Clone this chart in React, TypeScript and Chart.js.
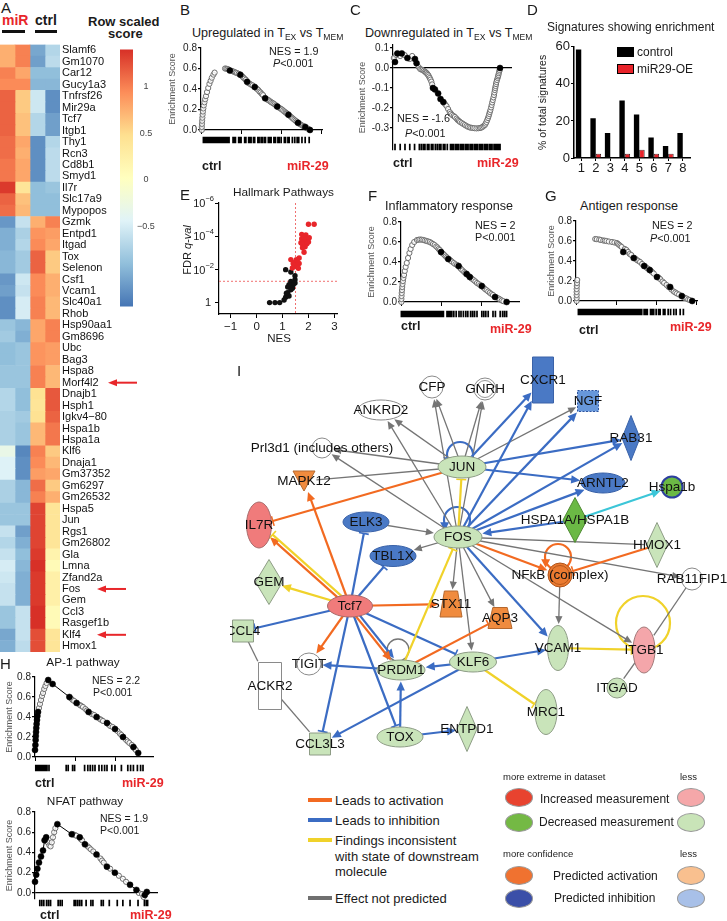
import React, { useEffect, useRef } from "react";
import { Chart, registerables } from "chart.js";

Chart.register(...registerables);

const FONT = '"Liberation Sans", Arial, Helvetica, sans-serif';
Chart.defaults.font.family = FONT;
Chart.defaults.color = "#1a1a1a";

/* ================= Panel A : heatmap ================= */
const GENES = ["Slamf6","Gm1070","Car12","Gucy1a3","Tnfrsf26","Mir29a","Tcf7","Itgb1","Thy1","Rcn3","Cd8b1","Smyd1","Il7r","Slc17a9","Mypopos","Gzmk","Entpd1","Itgad","Tox","Selenon","Csf1","Vcam1","Slc40a1","Rhob","Hsp90aa1","Gm8696","Ubc","Bag3","Hspa8","Morf4l2","Dnajb1","Hsph1","Igkv4\u221280","Hspa1b","Hspa1a","Klf6","Dnaja1","Gm37352","Gm6297","Gm26532","Hspa5","Jun","Rgs1","Gm26802","Gla","Lmna","Zfand2a","Fos","Gem","Ccl3","Rasgef1b","Klf4","Hmox1"];
const MIR_1 = [0.75,0.75,1.0,0.95,1.15,1.15,1.15,1.15,1.1,1.1,1.05,1.05,1.35,1.15,1.1,-1.15,-1.0,-1.0,-0.95,-0.95,-1.15,-1.1,-1.2,-1.2,-0.85,-0.8,-0.9,-0.9,-0.85,-0.85,-0.7,-0.7,-0.75,-0.75,-0.75,-0.3,-0.45,-0.45,-0.75,-0.75,-0.85,-0.85,-0.6,-0.7,-0.6,-0.5,-0.55,-0.6,-0.6,-0.85,-0.85,-1.05,-1.0];
const MIR_2 = [1.0,1.0,0.8,0.95,0.6,0.6,0.65,0.65,0.8,0.75,0.8,0.8,0.4,0.65,0.7,-0.6,-0.75,-0.7,-0.8,-0.8,-0.55,-0.6,-0.5,-0.5,-0.95,-1.0,-0.85,-0.85,-0.85,-0.85,-0.9,-0.9,-0.8,-0.85,-0.85,-1.25,-1.2,-1.2,-0.95,-0.95,-0.85,-0.85,-1.1,-1.0,-0.9,-0.95,-1.0,-1.0,-1.0,-0.6,-0.6,-0.6,-0.65];
const CTRL_1 = [-1.05,-1.1,-0.9,-0.95,-0.55,-0.55,-0.7,-0.7,-1.2,-1.2,-1.2,-1.2,-0.9,-0.9,-0.9,0.75,0.9,0.95,1.15,1.15,0.95,0.95,1.0,1.0,0.8,0.8,0.9,0.9,1.0,1.0,0.45,0.4,0.45,0.7,0.7,1.0,0.95,0.85,1.1,1.0,1.3,1.3,1.3,1.3,1.35,1.4,1.35,1.35,1.35,1.4,1.4,1.25,1.25];
const CTRL_2 = [-0.7,-0.65,-0.9,-0.95,-1.2,-1.2,-1.1,-1.1,-0.7,-0.65,-0.65,-0.65,-0.85,-0.9,-0.9,1.0,0.85,0.8,0.6,0.6,0.75,0.75,0.7,0.7,1.0,1.0,0.85,0.85,0.7,0.7,1.2,1.2,1.15,1.05,1.05,0.6,0.7,0.8,0.6,0.75,0.4,0.4,0.4,0.4,0.2,0.1,0.25,0.25,0.25,0.1,0.1,0.4,0.4];
const SAMPLE_COLUMNS = ["miR-1", "miR-2", "ctrl-1", "ctrl-2"];
const ARROW_GENES = ["Morf4l2", "Fos", "Klf4"];
const SCALE_MIN = -1.36;
const SCALE_MAX = 1.4;
const SCALE_TICKS = [-0.5, 0, 0.5, 1];
const PALETTE = ["#4575B4", "#91BFDB", "#E0F3F8", "#FFFFBF", "#FEE090", "#FC8D59", "#D73027"];
const ARROW_TIP: any = { Morf4l2: 108, Fos: 97, Klf4: 97 };

/* ================= GSEA panels (x = rank in thousands) ================= */
type Pt = [number, number];
const B_GRAY: Pt[] = [[0.1,0.0],[0.1,0.03],[0.12,0.06],[0.14,0.09],[0.17,0.12],[0.2,0.15],[0.24,0.18],[0.29,0.21],[0.35,0.24],[0.43,0.27],[0.52,0.3],[0.62,0.33],[0.75,0.37],[0.9,0.41],[1.05,0.45],[1.2,0.48],[1.35,0.51],[1.55,0.54],[1.7,0.56],[3.0,0.6],[3.15,0.598],[3.3,0.595],[3.45,0.59],[3.9,0.575],[4.05,0.57],[4.2,0.565],[4.35,0.56],[4.5,0.555],[4.7,0.548],[5.05,0.53],[5.2,0.52],[5.3,0.51],[5.45,0.5],[5.6,0.49],[5.9,0.46],[6.0,0.455],[6.15,0.448],[6.3,0.44],[6.45,0.435],[6.85,0.41],[7.0,0.4],[7.15,0.39],[7.3,0.375],[7.45,0.365],[7.6,0.35],[7.75,0.34],[8.15,0.305],[8.3,0.295],[8.45,0.29],[8.6,0.28],[8.75,0.272],[8.9,0.265],[9.05,0.258],[9.2,0.25],[9.35,0.24],[9.65,0.222],[9.8,0.215],[9.95,0.207],[10.1,0.2],[10.25,0.19],[10.4,0.18],[10.55,0.172],[10.65,0.165],[10.75,0.16],[11.05,0.14],[11.2,0.13],[11.35,0.12],[11.5,0.11],[11.65,0.1],[11.8,0.09],[11.95,0.082],[12.25,0.063],[12.4,0.055],[12.55,0.048],[12.7,0.04],[12.85,0.035],[13.15,0.02],[13.3,0.015],[13.45,0.008]];
const B_LEAD: Pt[] = [[3.6,0.58],[4.9,0.54],[5.75,0.47],[6.7,0.42],[8.0,0.31],[9.5,0.23],[10.9,0.15],[12.1,0.07],[13.0,0.03],[13.6,0.0]];
const B_HITS = [0.3,0.45,0.6,0.7,0.85,1.0,1.1,1.25,1.4,1.5,1.65,1.8,1.9,2.05,2.2,2.3,2.45,2.6,2.75,2.85,3.0,3.15,3.3,3.5,4.0,4.15,4.3,4.7,4.85,5.0,5.45,5.6,5.95,6.1,6.25,6.55,6.7,7.1,7.25,7.5,7.65,7.9,8.05,8.4,8.6,8.75,9.1,9.3,9.6,9.75,10.0,10.4,10.55,10.85,11.0,11.4,11.7,12.0,12.2,12.6,13.0,13.5];

const C_GRAY: Pt[] = [[0.1,0.05],[0.4,0.065],[0.9,0.06],[1.45,0.065],[2.1,0.045],[2.4,0.06],[3.2,0.005],[3.4,-0.005],[3.55,-0.008],[3.7,-0.01],[3.85,-0.014],[4.0,-0.018],[4.1,-0.022],[4.2,-0.025],[4.3,-0.03],[4.4,-0.035],[4.5,-0.042],[4.6,-0.05],[4.7,-0.058],[4.8,-0.068],[4.9,-0.082],[6.5,-0.18],[6.7,-0.19],[6.9,-0.205],[7.1,-0.22],[7.25,-0.228],[7.4,-0.235],[7.6,-0.24],[7.75,-0.245],[7.95,-0.253],[8.1,-0.26],[8.25,-0.265],[8.4,-0.27],[8.6,-0.275],[8.8,-0.28],[9.0,-0.285],[9.2,-0.29],[9.4,-0.294],[9.6,-0.297],[9.8,-0.299],[10.0,-0.3],[10.2,-0.301],[10.45,-0.302],[10.7,-0.301],[10.9,-0.3],[11.05,-0.298],[11.2,-0.295],[11.35,-0.29],[11.5,-0.285],[11.6,-0.278],[11.7,-0.27],[11.8,-0.26],[11.9,-0.25],[11.98,-0.24],[12.05,-0.23],[12.12,-0.22],[12.2,-0.21],[12.28,-0.197],[12.35,-0.185],[12.42,-0.172],[12.5,-0.16],[12.58,-0.147],[12.65,-0.135],[12.7,-0.122],[12.75,-0.11],[12.8,-0.1],[12.85,-0.09],[12.9,-0.08],[12.95,-0.07],[13.02,-0.06],[13.1,-0.05],[13.15,-0.042],[13.2,-0.035],[13.25,-0.026],[13.3,-0.018],[13.35,-0.01]];
const C_LEAD: Pt[] = [[0.25,0.03],[0.55,0.073],[1.1,0.073],[1.8,0.05],[2.75,0.045],[2.95,0.024],[5.0,-0.1],[5.25,-0.107],[5.65,-0.127],[5.95,-0.155],[6.3,-0.17],[13.4,0.0]];
const C_HITS = [0.25,0.9,1.5,2.1,2.7,3.3,3.55,3.8,4.0,4.3,4.5,4.8,5.0,5.3,5.55,5.8,6.0,6.3,6.5,6.8,7.2,7.4,7.6,7.85,8.0,8.2,8.45,8.6,8.8,9.05,9.2,9.4,9.65,9.8,10.0,10.25,10.4,10.6,10.85,11.0,11.2,11.45,11.6,11.8,12.05,12.2,12.4,12.65,12.8,13.0,13.2,13.4];

const F_GRAY: Pt[] = [[0.05,0.0],[0.05,0.03],[0.07,0.06],[0.09,0.09],[0.12,0.12],[0.15,0.15],[0.19,0.18],[0.24,0.21],[0.3,0.24],[0.38,0.27],[0.47,0.31],[0.58,0.35],[0.72,0.39],[0.88,0.44],[1.05,0.49],[1.2,0.53],[1.4,0.57],[1.65,0.6],[2.0,0.62],[2.2,0.623],[2.4,0.625],[2.6,0.623],[2.8,0.62],[3.0,0.615],[3.2,0.61],[3.4,0.605],[3.6,0.6],[3.8,0.59],[4.0,0.58],[4.2,0.57],[4.4,0.555],[4.55,0.545],[4.7,0.53],[4.85,0.52],[5.15,0.49],[5.3,0.48],[5.45,0.468],[5.6,0.455],[5.75,0.445],[6.05,0.425],[6.2,0.415],[6.35,0.405],[6.6,0.39],[6.8,0.378],[7.0,0.37],[7.35,0.345],[7.5,0.33],[7.7,0.315],[7.9,0.3],[8.05,0.29],[8.4,0.265],[8.75,0.24],[8.9,0.23],[9.1,0.218],[9.3,0.205],[9.5,0.19],[9.7,0.18],[9.9,0.168],[10.3,0.145],[10.5,0.13],[10.7,0.118],[10.9,0.105],[11.1,0.092],[11.3,0.08],[11.5,0.07],[11.95,0.045],[12.2,0.035],[12.4,0.025],[12.6,0.015],[12.8,0.008]];
const F_LEAD: Pt[] = [[5.0,0.5],[5.9,0.43],[7.2,0.36],[8.2,0.28],[8.6,0.25],[10.1,0.16],[11.75,0.05],[13.2,0.0]];
const F_HITS = [0.05,0.25,0.45,0.6,0.8,1.0,1.2,1.35,1.55,1.75,1.9,2.1,2.3,2.45,2.65,2.85,3.0,3.2,3.4,3.55,3.75,3.95,4.1,4.3,4.5,4.7,4.9,5.1,5.3,5.75,5.95,6.15,6.35,6.6,6.9,7.25,7.5,7.8,8.1,8.35,8.7,8.95,9.2,9.5,10.1,10.35,10.6,10.9,11.5,11.8,12.4,12.7,12.95,13.2];

const G_GRAY: Pt[] = [[0.08,0.0],[0.08,0.03],[0.08,0.06],[0.08,0.09],[0.08,0.12],[0.1,0.15],[0.12,0.18],[0.15,0.21],[2.4,0.62],[2.6,0.618],[2.9,0.615],[3.1,0.61],[3.4,0.605],[3.6,0.603],[3.8,0.6],[4.1,0.595],[4.5,0.59],[4.8,0.585],[5.1,0.58],[5.25,0.57],[5.4,0.56],[5.55,0.55],[5.7,0.54],[6.1,0.52],[6.3,0.51],[6.5,0.49],[6.7,0.47],[6.9,0.46],[7.4,0.425],[7.6,0.41],[7.8,0.4],[8.0,0.39],[8.25,0.37],[8.65,0.345],[8.85,0.33],[9.05,0.32],[9.35,0.3],[9.5,0.29],[9.7,0.275],[10.3,0.235],[10.5,0.22],[10.8,0.195],[11.0,0.18],[11.3,0.16],[11.55,0.14],[11.9,0.115],[12.2,0.095],[12.4,0.085],[12.6,0.075],[12.85,0.065],[13.4,0.04],[13.6,0.03],[13.8,0.025],[14.0,0.015],[14.2,0.01]];
const G_LEAD: Pt[] = [[5.9,0.49],[7.2,0.43],[8.5,0.35],[9.2,0.31],[10.1,0.24],[11.75,0.14],[13.2,0.05],[14.5,0.0]];
const G_HITS = [0.3,0.45,0.6,0.8,0.95,1.1,1.3,1.45,1.6,1.8,1.95,2.1,2.3,2.45,2.6,2.8,2.95,3.1,3.3,3.45,3.6,3.8,3.95,4.1,4.3,4.45,4.6,4.8,4.95,5.1,5.3,5.45,5.6,5.8,5.95,6.1,6.3,6.45,6.6,6.8,6.95,7.1,7.3,7.45,7.6,7.8,8.0,8.2,8.5,8.7,8.9,9.3,9.5,9.7,10.0,10.3,10.5,10.9,11.1,11.5,11.8,12.2,12.5,13.0,13.4];

const AP1_GRAY: Pt[] = [[0.5,0.49],[0.62,0.53],[0.75,0.57],[0.88,0.61],[1.0,0.64],[1.15,0.68],[1.3,0.71],[1.45,0.74],[4.5,0.585],[4.7,0.57],[4.9,0.56],[5.6,0.52],[5.8,0.51],[6.0,0.5],[6.3,0.48],[6.5,0.465],[7.1,0.43],[7.4,0.42],[8.1,0.38],[8.3,0.37],[8.5,0.36],[9.2,0.325],[9.4,0.31],[9.7,0.3],[10.3,0.26],[10.6,0.235],[10.8,0.22],[11.4,0.17],[11.6,0.155],[11.8,0.14],[12.1,0.12],[12.45,0.085],[12.6,0.07]];
const AP1_LEAD: Pt[] = [[0.0,0.07],[0.05,0.12],[0.08,0.17],[0.1,0.21],[0.13,0.25],[0.16,0.29],[0.2,0.33],[0.25,0.37],[0.3,0.41],[0.38,0.45],[1.65,0.77],[2.2,0.73],[4.3,0.6],[5.2,0.54],[6.7,0.45],[7.7,0.4],[9.0,0.34],[10.0,0.28],[11.0,0.2],[12.3,0.1],[12.9,0.04]];
const AP1_HITS = [0.1,0.3,0.5,0.7,0.9,1.1,1.3,1.5,1.75,3.9,4.15,4.7,4.95,6.2,6.6,6.9,7.2,7.5,8.0,8.35,8.7,9.0,9.6,10.0,10.8,11.6,11.95,12.3,12.8,13.2,13.5];

const NFAT_GRAY: Pt[] = [[1.6,0.5],[1.8,0.47],[1.95,0.46],[2.1,0.5],[2.25,0.55],[2.4,0.6],[2.55,0.64],[4.8,0.578],[4.9,0.575],[5.05,0.57],[5.2,0.565],[5.75,0.53],[5.9,0.52],[6.6,0.46],[6.8,0.445],[7.0,0.43],[7.3,0.41],[8.2,0.34],[8.4,0.32],[8.6,0.3],[9.4,0.24],[10.5,0.17],[11.0,0.14],[11.4,0.11],[13.0,0.0],[13.4,-0.01],[13.6,-0.04]];
const NFAT_LEAD: Pt[] = [[0.0,0.11],[0.15,0.18],[0.3,0.24],[0.5,0.3],[0.75,0.36],[1.0,0.42],[1.2,0.52],[1.4,0.55],[2.8,0.68],[4.6,0.58],[5.6,0.55],[6.25,0.48],[7.7,0.38],[9.0,0.26],[10.0,0.2],[11.9,0.08],[12.7,0.03],[13.75,-0.02],[14.0,0.01]];
const NFAT_HITS = [0.6,0.85,1.1,1.45,1.7,1.95,2.9,3.15,3.4,4.9,5.1,5.35,5.6,5.85,6.4,7.0,7.25,8.3,8.55,9.3,10.3,11.0,11.9,12.9,13.7,13.95,14.1];

const GSEA_X_TICKS = [0, 5, 10, 15];

/* ================= Panel D ================= */
const SIG_IDS = ["1", "2", "3", "4", "5", "6", "7", "8"];
const CONTROL_PCT = [58.5, 21.5, 13.5, 31, 23.5, 11, 6.5, 13.5];
const MIR29OE_PCT = [0, 2.3, 0, 2.3, 4.5, 2.3, 2.3, 0];

/* ================= Panel E ================= */
const E_SIG_NES = [2.0,2.22,1.74,1.9,1.74,1.83,1.92,2.03,1.83,1.71,1.77,1.94,2.0,1.87,1.77,1.83,1.64,1.53,1.32,1.57,1.48,1.41,1.64,1.53,1.45,1.57,1.38,1.61];
const E_SIG_FDR = [1.9e-5,1.9e-5,7.6e-5,8.3e-5,1.4e-4,1.2e-4,1.5e-4,1.2e-4,2.1e-4,2.4e-4,3e-4,2.8e-4,2.2e-4,4.2e-4,4.8e-4,9e-4,2e-3,2.5e-3,2.5e-3,3.2e-3,3.6e-3,4.3e-3,4.3e-3,5.2e-3,5.7e-3,6.9e-3,7.9e-3,8.3e-3];
const E_NS_NES = [1.12,1.32,1.48,1.48,1.32,1.48,1.41,1.25,1.2,1.38,1.32,1.2,1.25,1.12,1.06,0.89,0.71,0.5,1.15];
const E_NS_FDR = [1e-2,1.4e-2,2.3e-2,4e-2,5.1e-2,6.4e-2,8e-2,8e-2,0.11,0.13,0.16,0.24,0.38,0.45,0.66,0.95,0.95,0.95,0.26];
const NES_CUT = 1.5;
const FDR_CUT = 0.05;
const E_X_MIN = -1.45, E_X_MAX = 3.1, E_Y_MIN = 1e-6, E_Y_MAX = 4.6;
const E_X_TICKS = [-1, 0, 1, 2, 3];
const E_Y_TICKS = [1e-6, 1e-4, 1e-2, 1];

/* ================= Panel I : network ================= */
const NODE_NAMES = ["CFP","GNRH","CXCR1","NGF","ANKRD2","RAB31","Prl3d1 (includes others)","JUN","MAPK12","ARNTL2","Hspa1b","IL7R","ELK3","HSPA1A/HSPA1B","FOS","TBL1X","HMOX1","NFkB (complex)","RAB11FIP1","GEM","Tcf7","STX11","AQP3","CCL4","VCAM1","ITGB1","TIGIT","PRDM1","KLF6","ACKR2","ITGAD","MRC1","TOX","ENTPD1","CCL3L3"];
const NODE_X = [202,255,313,358,151,401,92,232,74,373,442,29,136,345,228,163,427,330,462,39,120,221,270,13,328,414,79,171,243,40,387,316,170,237,90];
const NODE_Y = [37,39,30,51,60,88,98,117,131,133,137,175,172,170,187,206,195,225,229,232,256,254,268,281,298,300,314,320,312,336,338,362,387,379,394];
const EDGE_FROM = ["JUN","FOS","JUN","FOS","JUN","FOS","JUN","FOS","JUN","JUN","ELK3","FOS","FOS","FOS","FOS","FOS","FOS","FOS","NFkB (complex)","RAB11FIP1","ITGB1","CCL4","ACKR2","JUN","FOS","FOS","JUN","FOS","JUN","FOS","HSPA1A/HSPA1B","HSPA1A/HSPA1B","FOS","KLF6","Tcf7","Tcf7","Tcf7","Tcf7","Tcf7","Tcf7","Tcf7","PRDM1","KLF6","TOX","TOX","KLF6","JUN","Tcf7","Tcf7","Tcf7","Tcf7","Tcf7","FOS","HMOX1","PRDM1","Tcf7","Tcf7","PRDM1","FOS","KLF6","VCAM1"];
const EDGE_TO = ["CFP","CFP","GNRH","GNRH","ANKRD2","ANKRD2","Prl3d1 (includes others)","Prl3d1 (includes others)","MAPK12","NGF","FOS","TBL1X","STX11","AQP3","KLF6","HMOX1","RAB11FIP1","ITGB1","VCAM1","ITGB1","ITGAD","ACKR2","CCL3L3","CXCR1","CXCR1","NGF","RAB31","RAB31","ARNTL2","ARNTL2","FOS","Hspa1b","VCAM1","VCAM1","ELK3","TBL1X","CCL4","KLF6","CCL3L3","TOX","PRDM1","TIGIT","PRDM1","PRDM1","ENTPD1","CCL3L3","IL7R","MAPK12","IL7R","STX11","TIGIT","PRDM1","NFkB (complex)","NFkB (complex)","AQP3","GEM","IL7R","FOS","JUN","MRC1","ITGB1"];
const EDGE_TYPE = ["np","np","np","np","np","np","np","np","np","np","np","np","np","np","np","np","np","np","np","np","np","np","np","inh","inh","inh","inh","inh","inh","inh","inh","cyan","inh","inh","inh","inh","inh","inh","inh","inh","inh","inh","inh","inh","inh","inh","act","act","act","act","act","act","act","act","act","inc","inc","inc","inc","inc","inc"];
const EDGE_HEAD = ["arrow","arrow","arrow","arrow","arrow","arrow","arrow","arrow","none","arrow","arrow","arrow","arrow","arrow","arrow","none","arrow","arrow","arrow","none","none","none","none","arrow","arrow","arrow","arrow","arrow","arrow","arrow","arrow","arrow","arrow","arrow","bar","bar","bar","bar","bar","bar","arrow","arrow","arrow","arrow","arrow","arrow","bar","arrow","arrow","arrow","arrow","arrow","arrow","bar","bar","arrow","bar","bar","bar","bar","bar"];
const LOOP_NODES = ["JUN", "FOS", "NFkB (complex)", "PRDM1", "ITGB1"];
const LOOP_TYPES = ["inh", "inh", "act", "np", "inc"];
const LOOP_HEADS = ["arrow", "arrow", "arrow", "arrow", "none"];

/* ---------- styles (kept apart from the data) ---------- */
const NODE_LOOK: any = {
  CFP: ["circle", 22, 22, "white"], GNRH: ["dcircle", 22, 22, "white"], CXCR1: ["rect", 21, 46, "blue"],
  NGF: ["rect", 21, 21, "lblue"], ANKRD2: ["ellipse", 46, 20, "white"], RAB31: ["diamond", 18, 45, "blue"],
  "Prl3d1 (includes others)": ["circle", 20, 20, "white"], JUN: ["ellipse", 48, 22, "green"],
  MAPK12: ["tri", 22, 20, "orange"], ARNTL2: ["ellipse", 44, 20, "blue"], Hspa1b: ["circle", 21, 21, "dgreenB"],
  IL7R: ["ellipse", 25, 46, "red"], ELK3: ["ellipse", 46, 20, "blue"], "HSPA1A/HSPA1B": ["diamond", 24, 45, "dgreen"],
  FOS: ["ellipse", 48, 22, "green"], TBL1X: ["ellipse", 46, 21, "blue"], HMOX1: ["diamond", 21, 45, "green"],
  "NFkB (complex)": ["dcircle", 24, 24, "dorange"], RAB11FIP1: ["circle", 21, 22, "white"], GEM: ["diamond", 27, 45, "green"],
  Tcf7: ["ellipse", 45, 22, "red"], STX11: ["trap", 22, 26, "orange"], AQP3: ["trap", 24, 21, "orange"],
  CCL4: ["rect", 21, 22, "green"], VCAM1: ["ellipse", 21, 45, "green"], ITGB1: ["ellipse", 22, 46, "pink"],
  TIGIT: ["circle", 24, 22, "white"], PRDM1: ["ellipse", 48, 20, "green"], KLF6: ["ellipse", 47, 20, "green"],
  ACKR2: ["rect", 23, 47, "white"], ITGAD: ["circle", 20, 20, "green"], MRC1: ["ellipse", 22, 45, "green"],
  TOX: ["ellipse", 46, 20, "green"], ENTPD1: ["diamond", 20, 45, "green"], CCL3L3: ["rect", 21, 22, "green"],
};
const FILLS: any = {
  white: ["#ffffff", "#8a8a8a"], green: ["#c9e4ba", "#8d9c85"], blue: ["#4a79c5", "#3a62a8"], lblue: ["#6797db", "#2f55a0"],
  red: ["#f07b7b", "#a86a6a"], pink: ["#f4a6aa", "#a27a7a"], orange: ["#f08b3e", "#b5682e"], dorange: ["#ea7a30", "#b0541a"],
  dgreen: ["#6bb945", "#4f8a33"], dgreenB: ["#6bb945", "#2d3f9e"],
};
const LOOP_GEOM: any = { JUN: [-2, -12, 13], FOS: [-1, -17, 13], "NFkB (complex)": [-2, -18, 13], PRDM1: [-3, -20, 11], ITGB1: [-1, -27, 27] };
const EDGE_COLORS: any = { act: "#f26a21", inh: "#3b6cc3", inc: "#f0d22a", np: "#757575", cyan: "#3cc6d8" };
const EDGE_WIDTH: any = { act: 2.2, inh: 2.2, inc: 2.2, np: 1.3, cyan: 2.2 };

/* ================= helpers ================= */
function hexToRgb(h: string) {
  const n = parseInt(h.slice(1), 16);
  return [(n >> 16) & 255, (n >> 8) & 255, n & 255];
}
function heatColor(v: number) {
  const t = Math.min(1, Math.max(0, (v - SCALE_MIN) / (SCALE_MAX - SCALE_MIN))) * (PALETTE.length - 1);
  const i = Math.min(PALETTE.length - 2, Math.floor(t));
  const f = t - i;
  const a = hexToRgb(PALETTE[i]);
  const b = hexToRgb(PALETTE[i + 1]);
  const c = a.map((x, k) => Math.round(x + (b[k] - x) * f));
  return `rgb(${c[0]},${c[1]},${c[2]})`;
}
const minus = (v: number) => (v < 0 ? "\u2212" + Math.abs(v) : String(v));

function ChartCanvas({ left, top, width, height, build }: any) {
  const ref = useRef<HTMLCanvasElement>(null);
  useEffect(() => {
    if (!ref.current) return;
    const ch = build(ref.current);
    return () => ch.destroy();
  }, []);
  return <canvas ref={ref} width={width} height={height} style={{ position: "absolute", left, top, width, height }} />;
}

function Txt({ x, y, s = 11, bold = false, italic = false, color = "#1a1a1a", center = false, children }: any) {
  const style: any = {
    position: "absolute", top: y - s / 2, fontSize: s, lineHeight: `${s}px`, whiteSpace: "nowrap",
    fontWeight: bold ? 700 : 400, fontStyle: italic ? "italic" : "normal", color,
  };
  if (center) { style.left = x - 150; style.width = 300; style.textAlign = "center"; } else style.left = x;
  return <div style={style}>{children}</div>;
}
function VTxt({ x, y, s = 11, children }: any) {
  return (
    <div style={{ position: "absolute", left: x, top: y, fontSize: s, lineHeight: `${s}px`, whiteSpace: "nowrap", color: "#1a1a1a", transform: "translate(-50%, -50%) rotate(-90deg)" }}>
      {children}
    </div>
  );
}
const Sub = ({ children }: any) => <span style={{ fontSize: "0.68em", position: "relative", top: "0.38em" }}>{children}</span>;

/* ================= chart builders ================= */
const heatArrows = {
  id: "heatArrows",
  afterDraw(chart: any) {
    const { ctx } = chart;
    const ys = chart.scales.y;
    ARROW_GENES.forEach((g) => {
      const y = ys.getPixelForValue(GENES.indexOf(g));
      const tip = ARROW_TIP[g];
      ctx.save();
      ctx.strokeStyle = "#e8262a";
      ctx.fillStyle = "#e8262a";
      ctx.lineWidth = 2;
      ctx.beginPath();
      ctx.moveTo(tip + 29, y);
      ctx.lineTo(tip + 6, y);
      ctx.stroke();
      ctx.beginPath();
      ctx.moveTo(tip, y);
      ctx.lineTo(tip + 9, y - 3.5);
      ctx.lineTo(tip + 9, y + 3.5);
      ctx.closePath();
      ctx.fill();
      ctx.restore();
    });
  },
};

function buildHeatmap(c: HTMLCanvasElement) {
  const cols = [MIR_1, MIR_2, CTRL_1, CTRL_2];
  return new Chart(c, {
    type: "bar",
    data: {
      labels: GENES,
      datasets: cols.map((vals, k) => ({
        label: SAMPLE_COLUMNS[k], data: vals.map(() => 1), backgroundColor: vals.map(heatColor),
        borderWidth: 0, barPercentage: 1, categoryPercentage: 1,
      })),
    },
    options: {
      indexAxis: "y", responsive: false, animation: false, events: [], devicePixelRatio: 1,
      layout: { padding: { left: 0, top: 1.5, right: 0, bottom: 14 } },
      plugins: { legend: { display: false }, tooltip: { enabled: false } },
      scales: {
        x: { type: "linear", stacked: true, min: 0, max: 4, display: false },
        y: {
          type: "category", stacked: true, position: "right",
          afterFit: (s: any) => { s.width = 80; },
          grid: { display: false, drawTicks: false }, border: { display: false },
          ticks: { autoSkip: false, font: { size: 11 }, color: "#111", padding: 2 },
        },
      },
    } as any,
    plugins: [heatArrows],
  });
}

function buildColorbar(c: HTMLCanvasElement) {
  return new Chart(c, {
    type: "bar",
    data: {
      labels: [""],
      datasets: [{
        data: [[SCALE_MIN, SCALE_MAX]] as any, borderWidth: 0, barPercentage: 1, categoryPercentage: 1,
        backgroundColor: (ctx: any) => {
          const ch = ctx.chart;
          if (!ch.chartArea) return PALETTE[3];
          const ys = ch.scales.y;
          const g = ch.ctx.createLinearGradient(0, ys.getPixelForValue(SCALE_MIN), 0, ys.getPixelForValue(SCALE_MAX));
          PALETTE.forEach((col, i) => g.addColorStop(i / (PALETTE.length - 1), col));
          return g;
        },
      }],
    },
    options: {
      responsive: false, animation: false, events: [], devicePixelRatio: 1,
      layout: { padding: { left: 10, top: 3, right: 1, bottom: 3.3 } },
      plugins: { legend: { display: false }, tooltip: { enabled: false } },
      scales: {
        x: { display: false },
        y: {
          position: "right", min: SCALE_MIN, max: SCALE_MAX,
          afterBuildTicks: (s: any) => { s.ticks = SCALE_TICKS.map((value) => ({ value })); },
          afterFit: (s: any) => { s.width = 26; },
          grid: { display: false, drawTicks: false }, border: { display: false },
          ticks: { font: { size: 9 }, color: "#444", crossAlign: "center", padding: 4, callback: (v: any) => minus(Number(v)) },
        },
      },
    } as any,
  });
}

interface GseaSpec {
  ax: number; axisW: number; yTopPx: number; yBotPx: number; xEndPx: number; bottom: number;
  yMin: number; yMax: number; xMax: number; yTicks: number[]; hitY: number;
  gray: Pt[]; lead: Pt[]; hits: number[]; titleX: number; line?: boolean; zero?: boolean;
}

function GseaChart({ s }: { s: GseaSpec }) {
  const left = s.ax - s.axisW;
  const top = s.yTopPx - 8;
  const width = s.xEndPx + 8 - left;
  const height = s.bottom - top;
  const xAxisH = s.zero ? 0 : 5;
  const build = (c: HTMLCanvasElement) => {
    const datasets: any[] = [
      { data: s.lead.map(([x, y]) => ({ x, y })), pointRadius: 3, pointBackgroundColor: "#000", pointBorderColor: "#000", pointBorderWidth: 0.5, order: 1, clip: false },
      { data: s.gray.map(([x, y]) => ({ x, y })), pointRadius: 2.6, pointBackgroundColor: "rgba(255,255,255,0.8)", pointBorderColor: "#6e6e6e", pointBorderWidth: 1, order: 2, clip: false },
    ];
    if (s.line) {
      const path = [...s.gray, ...s.lead].sort((a, b) => a[0] - b[0] || a[1] - b[1]);
      datasets.push({ type: "line", data: path.map(([x, y]) => ({ x, y })), borderColor: "#000", borderWidth: 1, pointRadius: 0, order: 3, clip: false });
    }
    const hitPlugin = {
      id: "hitBar",
      afterDatasetsDraw(chart: any) {
        const { ctx, scales } = chart;
        const y = scales.y.getPixelForValue(s.hitY);
        ctx.save();
        ctx.strokeStyle = "#000";
        ctx.lineWidth = 1.7;
        ctx.beginPath();
        s.hits.forEach((h) => {
          const x = scales.x.getPixelForValue(h);
          ctx.moveTo(x, y - 3.2);
          ctx.lineTo(x, y + 3.2);
        });
        ctx.stroke();
        ctx.restore();
      },
    };
    return new Chart(c, {
      type: "scatter",
      data: { datasets },
      options: {
        responsive: false, animation: false, events: [], devicePixelRatio: 1,
        layout: { padding: { left: 0, top: 8, right: 8, bottom: s.bottom - s.yBotPx - xAxisH } },
        plugins: { legend: { display: false }, tooltip: { enabled: false } },
        scales: {
          x: {
            type: "linear", min: 0, max: s.xMax, display: !s.zero,
            afterBuildTicks: (sc: any) => { sc.ticks = GSEA_X_TICKS.filter((v) => v <= s.xMax).map((value) => ({ value })); },
            afterFit: (sc: any) => { sc.height = xAxisH; },
            grid: { drawOnChartArea: false, tickLength: 4, tickColor: "#000" },
            border: { color: "#000", width: 1.2 },
            ticks: { display: false },
          },
          y: {
            type: "linear", min: s.yMin, max: s.yMax,
            afterBuildTicks: (sc: any) => { sc.ticks = s.yTicks.map((value) => ({ value })); },
            afterFit: (sc: any) => { sc.width = s.axisW; },
            grid: {
              drawOnChartArea: !!s.zero, tickLength: 3, tickColor: "#000", lineWidth: 1.2,
              color: (ctx: any) => (ctx.tick && Math.abs(ctx.tick.value) < 1e-9 ? "#000" : "rgba(0,0,0,0)"),
            },
            border: { color: "#000", width: 1.2 },
            ticks: { font: { size: 10 }, color: "#222", padding: 1, callback: (v: any) => Number(v).toFixed(1) },
            title: { display: true, text: "Enrichment Score", font: { size: 9 }, color: "#555", padding: { top: s.titleX - left - 5.4, bottom: 0 } },
          },
        },
      } as any,
      plugins: [hitPlugin],
    });
  };
  return <ChartCanvas left={left} top={top} width={width} height={height} build={build} />;
}

function buildSignatures(c: HTMLCanvasElement) {
  return new Chart(c, {
    type: "bar",
    data: {
      labels: SIG_IDS,
      datasets: [
        { label: "control", data: CONTROL_PCT, backgroundColor: "#000", borderWidth: 0 },
        { label: "miR29-OE", data: MIR29OE_PCT, backgroundColor: "#e8232a", borderColor: "#000", borderWidth: 0.8 },
      ],
    },
    options: {
      responsive: false, animation: false, events: [], devicePixelRatio: 1,
      datasets: { bar: { categoryPercentage: 0.74, barPercentage: 1 } },
      layout: { padding: { left: 0, top: 8, right: 6, bottom: 0 } },
      plugins: { legend: { display: false }, tooltip: { enabled: false } },
      scales: {
        x: {
          afterFit: (s: any) => { s.height = 20; },
          grid: { offset: false, drawOnChartArea: false, tickLength: 3, tickColor: "#000" },
          border: { color: "#000", width: 1.5 },
          ticks: { font: { size: 13 }, color: "#1a1a1a", padding: 0 },
        },
        y: {
          min: 0, max: 60,
          afterBuildTicks: (s: any) => { s.ticks = [0, 20, 40, 60].map((value) => ({ value })); },
          afterFit: (s: any) => { s.width = 44; },
          grid: { drawOnChartArea: false, tickLength: 3, tickColor: "#000" },
          border: { color: "#000", width: 1.5 },
          ticks: { font: { size: 13 }, color: "#1a1a1a", padding: 1 },
          title: { display: true, text: "% of total signatures", font: { size: 10.5 }, color: "#1a1a1a", padding: { top: 6.7, bottom: 0 } },
        },
      },
    } as any,
  });
}

const eTicks = {
  id: "eTicks",
  afterDraw(chart: any) {
    const { ctx } = chart;
    const ys = chart.scales.y;
    const xr = chart.chartArea.left - 5;
    E_Y_TICKS.forEach((v) => {
      const y = ys.getPixelForValue(v);
      const e = Math.round(Math.log10(v));
      ctx.save();
      ctx.fillStyle = "#1a1a1a";
      ctx.textBaseline = "middle";
      ctx.textAlign = "right";
      if (e === 0) {
        ctx.font = `11px ${FONT}`;
        ctx.fillText("1", xr - 3, y);
      } else {
        const sup = "\u2212" + Math.abs(e);
        ctx.font = `7.5px ${FONT}`;
        const sw = ctx.measureText(sup).width;
        ctx.fillText(sup, xr, y - 4);
        ctx.font = `11px ${FONT}`;
        ctx.fillText("10", xr - sw, y + 1);
      }
      ctx.restore();
    });
  },
};

function buildHallmark(c: HTMLCanvasElement) {
  return new Chart(c, {
    type: "scatter",
    data: {
      datasets: [
        { data: E_SIG_NES.map((x, i) => ({ x, y: E_SIG_FDR[i] })), pointRadius: 2.7, pointBackgroundColor: "#e8262a", pointBorderWidth: 0, order: 1, clip: false },
        { data: E_NS_NES.map((x, i) => ({ x, y: E_NS_FDR[i] })), pointRadius: 2.7, pointBackgroundColor: "#111", pointBorderWidth: 0, order: 2, clip: false },
        { type: "line", data: [{ x: NES_CUT, y: E_Y_MIN }, { x: NES_CUT, y: E_Y_MAX }], borderColor: "#f07070", borderWidth: 1, borderDash: [2, 2], pointRadius: 0, order: 3 },
        { type: "line", data: [{ x: E_X_MIN, y: FDR_CUT }, { x: E_X_MAX, y: FDR_CUT }], borderColor: "#f07070", borderWidth: 1, borderDash: [2, 2], pointRadius: 0, order: 3 },
      ] as any,
    },
    options: {
      responsive: false, animation: false, events: [], devicePixelRatio: 1,
      layout: { padding: { left: 0, top: 7, right: 6, bottom: 10 } },
      plugins: { legend: { display: false }, tooltip: { enabled: false } },
      scales: {
        x: {
          type: "linear", min: E_X_MIN, max: E_X_MAX,
          afterBuildTicks: (s: any) => { s.ticks = E_X_TICKS.map((value) => ({ value })); },
          afterFit: (s: any) => { s.height = 22; },
          grid: { drawOnChartArea: false, tickLength: 4, tickColor: "#000" },
          border: { color: "#000", width: 1.2 },
          ticks: { font: { size: 11.5 }, color: "#1a1a1a", padding: 2, callback: (v: any) => minus(Number(v)) },
        },
        y: {
          type: "logarithmic", reverse: true, min: E_Y_MIN, max: E_Y_MAX,
          afterBuildTicks: (s: any) => { s.ticks = E_Y_TICKS.map((value) => ({ value })); },
          afterFit: (s: any) => { s.width = 34; },
          grid: { drawOnChartArea: false, tickLength: 4, tickColor: "#000" },
          border: { color: "#000", width: 1.2 },
          ticks: { display: false },
        },
      },
    } as any,
    plugins: [eTicks],
  });
}

/* ---------- network drawing ---------- */
function boundaryDist(look: any, ux: number, uy: number) {
  const hw = look[1] / 2, hh = look[2] / 2;
  const shape = look[0];
  if (shape === "rect") {
    const a = Math.abs(ux) > 1e-6 ? hw / Math.abs(ux) : 1e9;
    const b = Math.abs(uy) > 1e-6 ? hh / Math.abs(uy) : 1e9;
    return Math.min(a, b);
  }
  if (shape === "diamond") return 1 / (Math.abs(ux) / hw + Math.abs(uy) / hh);
  return 1 / Math.sqrt((ux / hw) ** 2 + (uy / hh) ** 2);
}

function drawEdge(ctx: any, x1: number, y1: number, x2: number, y2: number, look: any, type: string, head: string, off: number) {
  const dx = x2 - x1, dy = y2 - y1;
  const L = Math.hypot(dx, dy) || 1;
  const ux = dx / L, uy = dy / L, nx = -uy, ny = ux;
  x1 += nx * off; y1 += ny * off; x2 += nx * off; y2 += ny * off;
  const d = boundaryDist(look, ux, uy) + 1.5;
  const ex = x2 - ux * d, ey = y2 - uy * d;
  const col = EDGE_COLORS[type];
  const w = EDGE_WIDTH[type];
  const hl = type === "np" ? 8 : 9;
  const hw = type === "np" ? 3.6 : 4.2;
  ctx.strokeStyle = col;
  ctx.fillStyle = col;
  ctx.lineWidth = w;
  ctx.beginPath();
  ctx.moveTo(x1, y1);
  if (head === "arrow") ctx.lineTo(ex - ux * (hl - 1), ey - uy * (hl - 1));
  else ctx.lineTo(ex, ey);
  ctx.stroke();
  if (head === "arrow") {
    ctx.beginPath();
    ctx.moveTo(ex, ey);
    ctx.lineTo(ex - ux * hl + nx * hw, ey - uy * hl + ny * hw);
    ctx.lineTo(ex - ux * hl - nx * hw, ey - uy * hl - ny * hw);
    ctx.closePath();
    ctx.fill();
  } else if (head === "bar") {
    ctx.lineWidth = 1.6;
    ctx.beginPath();
    ctx.moveTo(ex + nx * 5, ey + ny * 5);
    ctx.lineTo(ex - nx * 5, ey - ny * 5);
    ctx.stroke();
  }
}

function nodePath(ctx: any, x: number, y: number, shape: string, w: number, h: number) {
  ctx.beginPath();
  if (shape === "rect") ctx.rect(x - w / 2, y - h / 2, w, h);
  else if (shape === "diamond") {
    ctx.moveTo(x, y - h / 2); ctx.lineTo(x + w / 2, y); ctx.lineTo(x, y + h / 2); ctx.lineTo(x - w / 2, y); ctx.closePath();
  } else if (shape === "tri") {
    ctx.moveTo(x - w / 2, y - h / 2); ctx.lineTo(x + w / 2, y - h / 2); ctx.lineTo(x, y + h / 2); ctx.closePath();
  } else if (shape === "trap") {
    ctx.moveTo(x - w * 0.3, y - h / 2); ctx.lineTo(x + w * 0.3, y - h / 2); ctx.lineTo(x + w / 2, y + h / 2); ctx.lineTo(x - w / 2, y + h / 2); ctx.closePath();
  } else ctx.ellipse(x, y, w / 2, h / 2, 0, 0, Math.PI * 2);
}

const networkPlugin = {
  id: "network",
  beforeDatasetsDraw(chart: any) {
    const { ctx, scales } = chart;
    const X = (i: number) => scales.x.getPixelForValue(NODE_X[i]);
    const Y = (i: number) => scales.y.getPixelForValue(NODE_Y[i]);
    ctx.save();
    LOOP_NODES.forEach((n, k) => {
      const i = NODE_NAMES.indexOf(n);
      const g = LOOP_GEOM[n];
      const cx = X(i) + g[0], cy = Y(i) + g[1], r = g[2];
      const col = EDGE_COLORS[LOOP_TYPES[k]];
      ctx.strokeStyle = col;
      ctx.fillStyle = col;
      ctx.lineWidth = EDGE_WIDTH[LOOP_TYPES[k]];
      ctx.beginPath();
      ctx.arc(cx, cy, r, 0, Math.PI * 2);
      ctx.stroke();
      if (LOOP_HEADS[k] === "arrow") {
        const tx = cx - r * 0.95, ty = cy + r * 0.45;
        ctx.beginPath();
        ctx.moveTo(tx, ty + 5);
        ctx.lineTo(tx - 4.5, ty - 3.5);
        ctx.lineTo(tx + 4.5, ty - 3.5);
        ctx.closePath();
        ctx.fill();
      }
    });
    const pairCount: any = {};
    const pairSeen: any = {};
    EDGE_FROM.forEach((f, k) => {
      const key = [f, EDGE_TO[k]].sort().join("|");
      pairCount[key] = (pairCount[key] || 0) + 1;
    });
    EDGE_FROM.forEach((f, k) => {
      const a = NODE_NAMES.indexOf(f);
      const b = NODE_NAMES.indexOf(EDGE_TO[k]);
      const key = [f, EDGE_TO[k]].sort().join("|");
      const n = pairCount[key];
      const sIdx = (pairSeen[key] = (pairSeen[key] ?? -1) + 1);
      const off = n > 1 ? (sIdx - (n - 1) / 2) * 3.6 : 0;
      drawEdge(ctx, X(a), Y(a), X(b), Y(b), NODE_LOOK[EDGE_TO[k]], EDGE_TYPE[k], EDGE_HEAD[k], off);
    });
    ctx.restore();
  },
  afterDatasetsDraw(chart: any) {
    const { ctx, scales } = chart;
    ctx.save();
    NODE_NAMES.forEach((n, i) => {
      const x = scales.x.getPixelForValue(NODE_X[i]);
      const y = scales.y.getPixelForValue(NODE_Y[i]);
      const [shape, w, h, fk] = NODE_LOOK[n];
      const [fill, stroke] = FILLS[fk];
      nodePath(ctx, x, y, shape, w, h);
      ctx.fillStyle = fill;
      ctx.fill();
      ctx.strokeStyle = stroke;
      ctx.lineWidth = fk === "dgreenB" ? 2 : 1;
      if (n === "NGF") ctx.setLineDash([2, 1.5]);
      ctx.stroke();
      ctx.setLineDash([]);
      if (shape === "dcircle") {
        nodePath(ctx, x, y, "circle", w - 5, h - 5);
        ctx.lineWidth = 0.9;
        ctx.stroke();
      }
    });
    ctx.font = `13.5px ${FONT}`;
    ctx.fillStyle = "#111";
    ctx.textAlign = "center";
    ctx.textBaseline = "middle";
    NODE_NAMES.forEach((n, i) => {
      ctx.fillText(n, scales.x.getPixelForValue(NODE_X[i]), scales.y.getPixelForValue(NODE_Y[i]) + 0.5);
    });
    ctx.restore();
  },
};

function buildNetwork(c: HTMLCanvasElement) {
  return new Chart(c, {
    type: "scatter",
    data: { datasets: [{ data: NODE_X.map((x, i) => ({ x, y: NODE_Y[i] })), pointRadius: 0 }] },
    options: {
      responsive: false, animation: false, events: [], devicePixelRatio: 1,
      layout: { padding: 0 },
      plugins: { legend: { display: false }, tooltip: { enabled: false } },
      scales: {
        x: { type: "linear", min: 0, max: 497, display: false },
        y: { type: "linear", min: 0, max: 420, reverse: true, display: false },
      },
    } as any,
    plugins: [networkPlugin],
  });
}

/* ================= specs for GSEA panels ================= */
const Y08 = [0, 0.2, 0.4, 0.6, 0.8];
const SPEC_B: GseaSpec = { ax: 201, axisW: 45, yTopPx: 48, yBotPx: 130, xEndPx: 322, bottom: 150, yMin: 0, yMax: 0.8, xMax: 15.1, yTicks: Y08, hitY: -0.098, gray: B_GRAY, lead: B_LEAD, hits: B_HITS, titleX: 173 };
const SPEC_C: GseaSpec = { ax: 393, axisW: 45, yTopPx: 45, yBotPx: 150, xEndPx: 512, bottom: 158, yMin: -0.41, yMax: 0.115, xMax: 14.9, yTicks: [-0.3, -0.2, -0.1, 0, 0.1], hitY: -0.395, gray: C_GRAY, lead: C_LEAD, hits: C_HITS, titleX: 363, zero: true };
const SPEC_F: GseaSpec = { ax: 401, axisW: 45, yTopPx: 222, yBotPx: 302, xEndPx: 519, bottom: 322, yMin: 0, yMax: 0.8, xMax: 14.75, yTicks: Y08, hitY: -0.12, gray: F_GRAY, lead: F_LEAD, hits: F_HITS, titleX: 372 };
const SPEC_G: GseaSpec = { ax: 576, axisW: 45, yTopPx: 221, yBotPx: 301, xEndPx: 697, bottom: 320, yMin: 0, yMax: 0.8, xMax: 15.1, yTicks: Y08, hitY: -0.11, gray: G_GRAY, lead: G_LEAD, hits: G_HITS, titleX: 552 };
const SPEC_AP1: GseaSpec = { ax: 35, axisW: 35, yTopPx: 677, yBotPx: 757, xEndPx: 153, bottom: 776, yMin: 0, yMax: 0.8, xMax: 14.75, yTicks: Y08, hitY: -0.11, gray: AP1_GRAY, lead: AP1_LEAD, hits: AP1_HITS, titleX: 10, line: true };
const SPEC_NFAT: GseaSpec = { ax: 35, axisW: 35, yTopPx: 812, yBotPx: 899, xEndPx: 158, bottom: 911, yMin: -0.06, yMax: 0.8, xMax: 15.4, yTicks: Y08, hitY: -0.1, gray: NFAT_GRAY, lead: NFAT_LEAD, hits: NFAT_HITS, titleX: 10, line: true, zero: true };

const RED = "#e8262a";
const Pv = ({ it = true }: any) => (<>{it ? <i>P</i> : "P"}&lt;0.001</>);

function LegendLine({ y, color }: any) {
  return <div style={{ position: "absolute", left: 308, top: y - 2, width: 24, height: 4, background: color }} />;
}
function LegendOval({ x, y, color }: any) {
  return <div style={{ position: "absolute", left: x - 14, top: y - 9.5, width: 28, height: 19, borderRadius: "50%", background: color, boxSizing: "border-box", border: "1px solid #9a9a9a" }} />;
}

export default function App() {
  return (
    <div style={{ position: "absolute", left: 0, top: 0, width: 727, height: 921, background: "#fff", fontFamily: FONT, color: "#1a1a1a", overflow: "hidden" }}>
      {/* Panel A */}
      <Txt x={1} y={7.5} s={15}>A</Txt>
      <Txt x={2} y={19.5} s={14} bold color={RED}>miR</Txt>
      <Txt x={35} y={19.5} s={14} bold>ctrl</Txt>
      <div style={{ position: "absolute", left: 2, top: 30, width: 23, height: 3, background: "#111" }} />
      <div style={{ position: "absolute", left: 35, top: 30, width: 22, height: 3, background: "#111" }} />
      <Txt x={88} y={21} s={13} bold>Row scaled</Txt>
      <Txt x={108} y={33} s={13} bold>score</Txt>
      <ChartCanvas left={0} top={36} width={140} height={630} build={buildHeatmap} />
      <ChartCanvas left={110} top={40} width={50} height={276} build={buildColorbar} />

      {/* Panel B */}
      <Txt x={180} y={9} s={15}>B</Txt>
      <Txt x={192} y={33} s={12.6}>Upregulated in T<Sub>EX</Sub> vs T<Sub>MEM</Sub></Txt>
      <GseaChart s={SPEC_B} />
      <Txt x={269} y={51} s={10.8}>NES = 1.9</Txt>
      <Txt x={273} y={63} s={10.8}><Pv /></Txt>
      <Txt x={202} y={166} s={12.5} bold>ctrl</Txt>
      <Txt x={287} y={166} s={12.5} bold color={RED}>miR-29</Txt>

      {/* Panel C */}
      <Txt x={350} y={9.5} s={15}>C</Txt>
      <Txt x={365} y={33} s={12.6}>Downregulated in T<Sub>EX</Sub> vs T<Sub>MEM</Sub></Txt>
      <GseaChart s={SPEC_C} />
      <Txt x={397} y={118} s={10.8}>NES = -1.6</Txt>
      <Txt x={405} y={133} s={10.8}><Pv /></Txt>
      <Txt x={393} y={163} s={12.5} bold>ctrl</Txt>
      <Txt x={477} y={163} s={12.5} bold color={RED}>miR-29</Txt>

      {/* Panel D */}
      <Txt x={527} y={9.5} s={15}>D</Txt>
      <Txt x={547} y={27} s={12}>Signatures showing enrichment</Txt>
      <ChartCanvas left={530} top={38} width={166} height={140} build={buildSignatures} />
      <div style={{ position: "absolute", left: 617, top: 47, width: 17, height: 10, background: "#000" }} />
      <Txt x={637} y={52} s={12}>control</Txt>
      <div style={{ position: "absolute", left: 617, top: 64, width: 17, height: 10, background: "#e8232a", boxSizing: "border-box", border: "1px solid #000" }} />
      <Txt x={637} y={69} s={12}>miR29-OE</Txt>

      {/* Panel E */}
      <Txt x={180} y={194.5} s={15}>E</Txt>
      <Txt x={233} y={193} s={11.8}>Hallmark Pathways</Txt>
      <ChartCanvas left={185} top={196} width={158} height={150} build={buildHallmark} />
      <VTxt x={187} y={250} s={11}>FDR <i>q-val</i></VTxt>
      <Txt x={279} y={339} s={11.5} center>NES</Txt>

      {/* Panel F */}
      <Txt x={368} y={195} s={15}>F</Txt>
      <Txt x={385} y={206} s={12.6}>Inflammatory response</Txt>
      <GseaChart s={SPEC_F} />
      <Txt x={475} y={225} s={10.8}>NES = 2</Txt>
      <Txt x={475} y={237} s={10.8}><Pv it={false} /></Txt>
      <Txt x={401} y={326} s={12.5} bold>ctrl</Txt>
      <Txt x={490} y={329} s={12.5} bold color={RED}>miR-29</Txt>

      {/* Panel G */}
      <Txt x={545} y={195} s={15}>G</Txt>
      <Txt x={580} y={206} s={12.6}>Antigen response</Txt>
      <GseaChart s={SPEC_G} />
      <Txt x={652} y={225} s={10.8}>NES = 2</Txt>
      <Txt x={650} y={238} s={10.8}><Pv /></Txt>
      <Txt x={579} y={330} s={12.5} bold>ctrl</Txt>
      <Txt x={670} y={327} s={12.5} bold color={RED}>miR-29</Txt>

      {/* Panel H */}
      <Txt x={0} y={663.5} s={15}>H</Txt>
      <Txt x={83} y={663} s={11.8} center>AP-1 pathway</Txt>
      <GseaChart s={SPEC_AP1} />
      <Txt x={92} y={680} s={10.5}>NES = 2.2</Txt>
      <Txt x={93} y={692} s={10.5}><Pv it={false} /></Txt>
      <Txt x={35} y={783} s={12.5} bold>ctrl</Txt>
      <Txt x={122} y={783} s={12.5} bold color={RED}>miR-29</Txt>

      <Txt x={85} y={802} s={11.8} center>NFAT pathway</Txt>
      <GseaChart s={SPEC_NFAT} />
      <Txt x={100} y={818} s={10.5}>NES = 1.9</Txt>
      <Txt x={100} y={830} s={10.5}><Pv it={false} /></Txt>
      <Txt x={40} y={915} s={12.5} bold>ctrl</Txt>
      <Txt x={130} y={915} s={12.5} bold color={RED}>miR-29</Txt>

      {/* Panel I */}
      <Txt x={237} y={370} s={15}>I</Txt>
      <ChartCanvas left={230} top={350} width={497} height={420} build={buildNetwork} />

      <LegendLine y={800} color={EDGE_COLORS.act} />
      <Txt x={335} y={800} s={13}>Leads to activation</Txt>
      <LegendLine y={820} color={EDGE_COLORS.inh} />
      <Txt x={335} y={820} s={13}>Leads to inhibition</Txt>
      <LegendLine y={840} color={EDGE_COLORS.inc} />
      <Txt x={335} y={840} s={13}>Findings inconsistent</Txt>
      <Txt x={335} y={856} s={13}>with state of downstream</Txt>
      <Txt x={335} y={871} s={13}>molecule</Txt>
      <LegendLine y={898} color="#6f6f6f" />
      <Txt x={335} y={898} s={13}>Effect not predicted</Txt>

      <Txt x={503} y={777} s={9.5}>more extreme in dataset</Txt>
      <Txt x={680} y={777} s={9.5}>less</Txt>
      <LegendOval x={519} y={797} color="#e8432f" />
      <Txt x={540} y={799} s={12}>Increased measurement</Txt>
      <LegendOval x={691} y={797} color="#f5a7a9" />
      <LegendOval x={519} y={822} color="#74b944" />
      <Txt x={539} y={822} s={12}>Decreased measurement</Txt>
      <LegendOval x={691} y={822} color="#c9e4b8" />
      <Txt x={503} y={854} s={9.5}>more confidence</Txt>
      <Txt x={680} y={854} s={9.5}>less</Txt>
      <LegendOval x={519} y={875} color="#f07230" />
      <Txt x={553} y={876} s={12}>Predicted activation</Txt>
      <LegendOval x={691} y={875} color="#f9c08f" />
      <LegendOval x={519} y={898} color="#3b4fa8" />
      <Txt x={554} y={898} s={12}>Predicted inhibition</Txt>
      <LegendOval x={691} y={898} color="#a8c0e8" />
    </div>
  );
}
